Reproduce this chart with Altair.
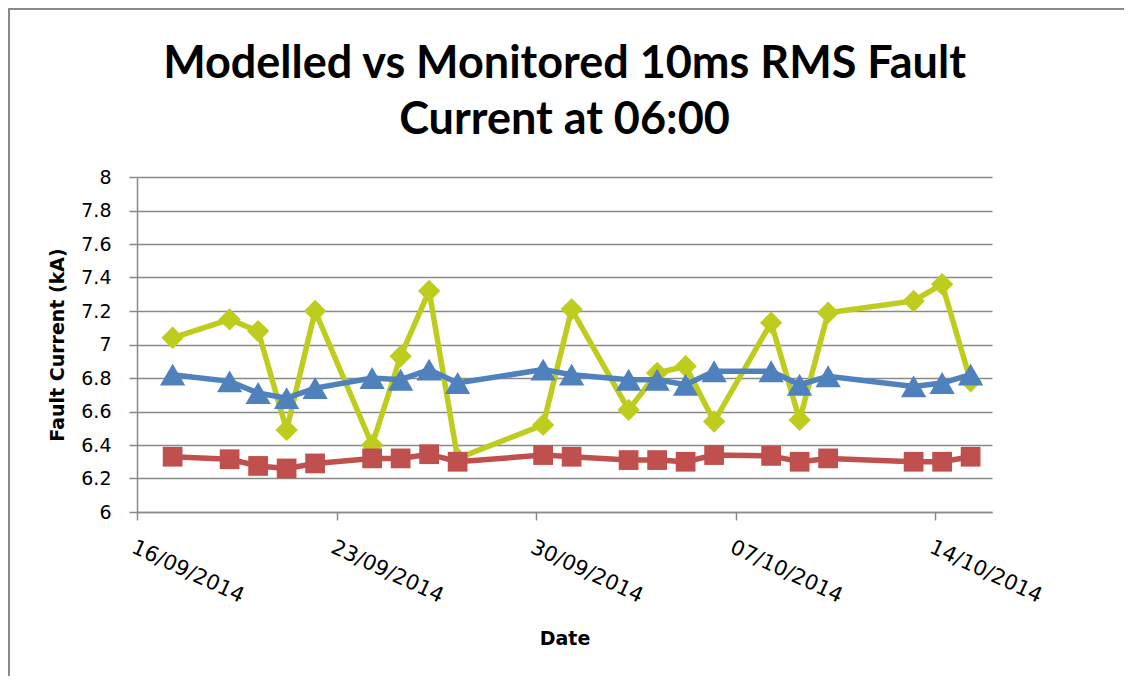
import altair as alt
import pandas as pd

# ---- data ----
dates = [
    "2014-09-17T06:00:00", "2014-09-19T06:00:00", "2014-09-20T06:00:00",
    "2014-09-21T06:00:00", "2014-09-22T06:00:00", "2014-09-24T06:00:00",
    "2014-09-25T06:00:00", "2014-09-26T06:00:00", "2014-09-27T06:00:00",
    "2014-09-30T06:00:00", "2014-10-01T06:00:00", "2014-10-03T06:00:00",
    "2014-10-04T06:00:00", "2014-10-05T06:00:00", "2014-10-06T06:00:00",
    "2014-10-08T06:00:00", "2014-10-09T06:00:00", "2014-10-10T06:00:00",
    "2014-10-13T06:00:00", "2014-10-14T06:00:00", "2014-10-15T06:00:00",
]
monitored = [7.04, 7.15, 7.08, 6.49, 7.20, 6.40, 6.93, 7.32, 6.32, 6.52, 7.21,
             6.61, 6.83, 6.87, 6.54, 7.13, 6.55, 7.19, 7.26, 7.36, 6.78]
modelled_low = [6.33, 6.315, 6.275, 6.26, 6.29, 6.32, 6.32, 6.345, 6.30, 6.34, 6.33,
                6.31, 6.31, 6.30, 6.34, 6.335, 6.30, 6.32, 6.30, 6.30, 6.33]
modelled_high = [6.82, 6.78, 6.71, 6.68, 6.74, 6.80, 6.79, 6.85, 6.77, 6.85, 6.82,
                 6.79, 6.79, 6.76, 6.84, 6.84, 6.76, 6.81, 6.75, 6.77, 6.82]

series_names = ["Monitored", "Modelled (low)", "Modelled (high)"]
series_values = [monitored, modelled_low, modelled_high]
series_colors = ["#BECC1E", "#C0504D", "#4F81BD"]
series_shapes = ["diamond", "square", "triangle-up"]
series_sizes = [500, 390, 640]

y_ticks = [6, 6.2, 6.4, 6.6, 6.8, 7, 7.2, 7.4, 7.6, 7.8, 8]
x_tick_days = [(2014, 9, 16), (2014, 9, 23), (2014, 9, 30), (2014, 10, 7), (2014, 10, 14)]

rows = []
for name, vals in zip(series_names, series_values):
    for d, v in zip(dates, vals):
        rows.append({"date": d, "value": v, "series": name})
df = pd.DataFrame(rows)

W, H = 855, 335
GRID = "#8A8A8A"

x_enc = alt.X(
    "date:T",
    scale=alt.Scale(
        domain=[alt.DateTime(year=2014, month=9, date=16),
                alt.DateTime(year=2014, month=10, date=16)],
        nice=False,
    ),
    axis=alt.Axis(
        values=[alt.DateTime(year=y, month=m, date=d) for (y, m, d) in x_tick_days],
        format="%d/%m/%Y",
        labelAngle=25,
        labelAlign="left",
        labelBaseline="top",
        labelOverlap=False,
        labelFont="DejaVu Sans",
        labelFontSize=21,
        labelColor="#000000",
        labelPadding=16,
        tickSize=8,
        tickColor=GRID,
        tickWidth=1.5,
        domainColor=GRID,
        domainWidth=1.5,
        grid=False,
        title="Date",
        titleFont="DejaVu Sans",
        titleFontSize=19,
        titleFontWeight="bold",
        titleColor="#000000",
        titleX=W / 2,
        titleY=126,
        titleAlign="center",
        titleBaseline="middle",
    ),
)

y_enc = alt.Y(
    "value:Q",
    scale=alt.Scale(domain=[6, 8], nice=False, zero=False),
    axis=alt.Axis(
        values=y_ticks,
        format="~g",
        labelFont="DejaVu Sans",
        labelFontSize=19,
        labelColor="#000000",
        labelPadding=18,
        tickSize=8,
        tickColor=GRID,
        tickWidth=1.5,
        domainColor=GRID,
        domainWidth=1.5,
        grid=True,
        gridColor=GRID,
        gridWidth=1.5,
        title="Fault Current (kA)",
        titleFont="DejaVu Sans",
        titleFontSize=19,
        titleFontWeight="bold",
        titleColor="#000000",
        titleX=-80,
        titleY=H / 2,
        titleAngle=270,
        titleAlign="center",
        titleBaseline="middle",
    ),
)

base = alt.Chart(df)
layers = []
for name, color, shape, size in zip(series_names, series_colors, series_shapes, series_sizes):
    sub = base.transform_filter(alt.datum.series == name)
    line = sub.mark_line(color=color, strokeWidth=5.5).encode(x=x_enc, y=y_enc)
    pts = sub.mark_point(shape=shape, filled=True, size=size, color=color, opacity=1).encode(
        x=x_enc, y=y_enc
    )
    layers += [line, pts]

frame = alt.Chart(pd.DataFrame({"k": [0]})).mark_rect(
    fillOpacity=0, stroke=GRID, strokeWidth=2
).encode(
    x=alt.value(-128), x2=alt.value(W + 400),
    y=alt.value(-168), y2=alt.value(H + 400),
)

chart = alt.layer(frame, *layers).properties(
    width=W,
    height=H,
    autosize=alt.AutoSizeParams(type="none"),
    padding={"left": 129, "top": 169, "right": 132, "bottom": 164},
    title=alt.TitleParams(
        text=["Modelled vs Monitored 10ms RMS Fault", "Current at 06:00"],
        font="Lato",
        fontSize=45,
        fontWeight="bold",
        color="#000000",
        anchor="middle",
        offset=-135,
        lineHeight=56,
    ),
).configure_view(stroke="transparent")

chart.save("out.html", embed_options={"renderer": "svg", "actions": False})
